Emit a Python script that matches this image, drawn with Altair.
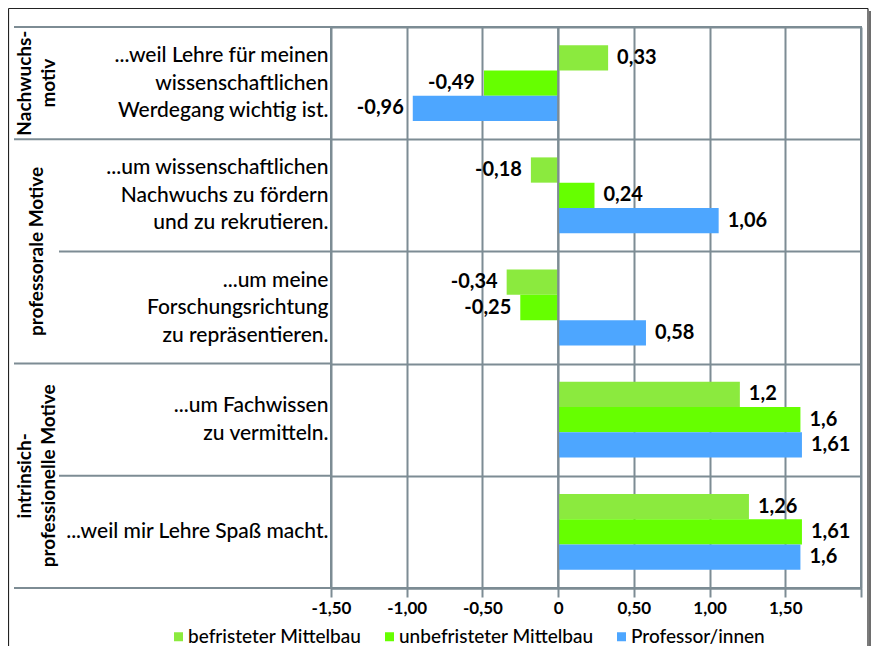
import altair as alt
import pandas as pd

# ---------------- data ----------------
items = [
    "...weil Lehre für meinen|wissenschaftlichen|Werdegang wichtig ist.",
    "...um wissenschaftlichen|Nachwuchs zu fördern|und zu rekrutieren.",
    "...um meine|Forschungsrichtung|zu repräsentieren.",
    "...um Fachwissen|zu vermitteln.",
    "...weil mir Lehre Spaß macht.",
]
groups = [
    "Nachwuchs-|motiv",
    "professorale Motive",
    "professorale Motive",
    "intrinsich-|professionelle Motive",
    "intrinsich-|professionelle Motive",
]
series = ["befristeter Mittelbau", "unbefristeter Mittelbau", "Professor/innen"]
befristet = [0.33, -0.18, -0.34, 1.2, 1.26]
unbefristet = [-0.49, 0.24, -0.25, 1.6, 1.61]
professor = [-0.96, 1.06, 0.58, 1.61, 1.6]
colors = ["#8BEA3E", "#66FF00", "#4DA6FF"]
x_ticks = [-1.5, -1.0, -0.5, 0, 0.5, 1.0, 1.5, 2.0]

FONT = "Lato"
GRID = "#7D8C94"
ITEM_LH = 27.5
GROUP_LH = 24

# ---------------- tables ----------------
rows = []
for s, vals in zip(series, [befristet, unbefristet, professor]):
    for it, v in zip(items, vals):
        rows.append({"item": it, "series": s, "value": v,
                     "label": f"{v:g}".replace(".", ",")})
df = pd.DataFrame(rows)

grp_rows = []
for g in dict.fromkeys(groups):
    members = [it for it, gg in zip(items, groups) if gg == g]
    grp_rows.append({"group": g, "first": members[0], "n": len(members),
                     "lines": len(g.split("|"))})
gdf = pd.DataFrame(grp_rows)

sep_rows = []
for i, (it, g) in enumerate(zip(items, groups)):
    sep_rows.append({"item": it, "start": i == 0 or groups[i - 1] != g})
sdf = pd.DataFrame(sep_rows)

y_scale = alt.Scale(domain=items, paddingInner=0, paddingOuter=0)
yoff = alt.YOffset("series:N", sort=series,
                   scale=alt.Scale(domain=series, paddingInner=0, paddingOuter=0.72))

x_axis = alt.Axis(
    values=x_ticks, title=None, grid=True, gridColor=GRID, gridWidth=2,
    tickColor=GRID, tickWidth=2, tickSize=9, domainColor=GRID, domainWidth=2,
    labelFont=FONT, labelFontWeight="bold", labelFontSize=17, labelColor="black",
    labelPadding=3, labelFlush=False, labelOverlap=False,
    labelExpr="datum.value >= 2 ? '' : (datum.value == 0 ? '0' : (datum.value < 0 ? '-' : '') + replace(format(abs(datum.value), '.2f'), '.', ','))",
)
y_axis = alt.Axis(
    title=None, labelExpr="split(datum.label, '|')", labelAlign="right",
    labelBaseline="middle", labelPadding=3, labelFont=FONT, labelFontSize=21,
    labelFontWeight=500,
    labelLineHeight=ITEM_LH, labelLimit=400, labelColor="black",
    labelOffset={"condition": [
        {"test": "length(split(datum.label, '|')) == 3", "value": -ITEM_LH},
        {"test": "length(split(datum.label, '|')) == 2", "value": -ITEM_LH / 2},
    ], "value": 0},
    ticks=False, domain=False, grid=True, tickBand="extent",
    gridColor=GRID, gridWidth=2,
)

bars = alt.Chart(df).mark_bar().encode(
    x=alt.X("value:Q", scale=alt.Scale(domain=[-1.5, 2.0], nice=False, zero=False), axis=x_axis),
    x2=alt.datum(0),
    y=alt.Y("item:N", sort=items, scale=y_scale, axis=y_axis),
    yOffset=yoff,
    color=alt.Color("series:N", sort=series,
                    scale=alt.Scale(domain=series, range=colors),
                    legend=alt.Legend(title=None, orient="none", legendX=-162, legendY=600,
                                      direction="horizontal", symbolType="square",
                                      symbolSize=81, symbolStrokeWidth=0, symbolOpacity=1,
                                      labelFont=FONT, labelFontSize=19, labelFontWeight=500,
                                      labelColor="black",
                                      labelOffset=0, columnPadding=18, labelLimit=400)),
)

zero_line = alt.Chart(alt.Data(values=[{"z": 0}])).mark_rule(color=GRID, strokeWidth=2).encode(
    x=alt.datum(0)
)

pos_labels = alt.Chart(df).transform_filter("datum.value >= 0").mark_text(
    align="left", baseline="middle", dx=9, font=FONT, fontWeight="bold", fontSize=20, color="black"
).encode(
    x=alt.X("value:Q"), y=alt.Y("item:N", sort=items), yOffset=yoff, text="label:N"
)
neg_labels = alt.Chart(df).transform_filter("datum.value < 0").mark_text(
    align="right", baseline="middle", dx=-9, font=FONT, fontWeight="bold", fontSize=20, color="black"
).encode(
    x=alt.X("value:Q"), y=alt.Y("item:N", sort=items), yOffset=yoff, text="label:N"
)

grp_layers = []
for (n, nl) in sorted({(r["n"], r["lines"]) for r in grp_rows}):
    grp_layers.append(
        alt.Chart(gdf).transform_filter(f"datum.n == {n} && datum.lines == {nl}").mark_text(
            angle=270, align="center", baseline="middle", font=FONT, fontWeight="bold",
            fontSize=19, lineHeight=GROUP_LH, lineBreak="|", color="black",
            dy=-(nl - 1) * GROUP_LH / 2,
        ).encode(
            y=alt.Y("first:N", sort=items, bandPosition=n / 2), x=alt.value(-294), text="group:N"
        )
    )

sep_long = alt.Chart(sdf).transform_filter("datum.start").mark_rule(color=GRID, strokeWidth=2).encode(
    y=alt.Y("item:N", sort=items, bandPosition=0), x=alt.value(-317), x2=alt.value(0)
)
sep_short = alt.Chart(sdf).transform_filter("!datum.start").mark_rule(color=GRID, strokeWidth=2).encode(
    y=alt.Y("item:N", sort=items, bandPosition=0), x=alt.value(-272), x2=alt.value(0)
)
sep_bottom = alt.Chart(alt.Data(values=[{"item": items[-1]}])).mark_rule(color=GRID, strokeWidth=2).encode(
    y=alt.Y("item:N", sort=items, bandPosition=1), x=alt.value(-317), x2=alt.value(0)
)

one = alt.Data(values=[{"k": 1}])
frame_left = alt.Chart(one).mark_rule(color="#222222", strokeWidth=1.2).encode(
    x=alt.value(-322.5), y=alt.value(-18.5), y2=alt.value(620))
frame_top = alt.Chart(one).mark_rule(color="#222222", strokeWidth=1.2).encode(
    y=alt.value(-18.5), x=alt.value(-322.5), x2=alt.value(537))
frame_right = alt.Chart(one).mark_rule(color="#222222", strokeWidth=1.2).encode(
    x=alt.value(537), y=alt.value(-18.5), y2=alt.value(620))
frame_shadow = alt.Chart(one).mark_rule(color="#6E6E6E", strokeWidth=3).encode(
    x=alt.value(539.5), y=alt.value(-16), y2=alt.value(620))

chart = alt.layer(
    bars, zero_line, pos_labels, neg_labels, *grp_layers,
    sep_long, sep_short, sep_bottom,
    frame_left, frame_top, frame_right, frame_shadow,
).properties(
    width=530, height=561,
    autosize=alt.AutoSizeParams(type="none"),
    padding={"left": 323, "top": 19, "right": 10, "bottom": 58},
).configure(font=FONT).configure_view(stroke=GRID, strokeWidth=2)

chart.save("out.html", embed_options={"renderer": "svg", "actions": False})
